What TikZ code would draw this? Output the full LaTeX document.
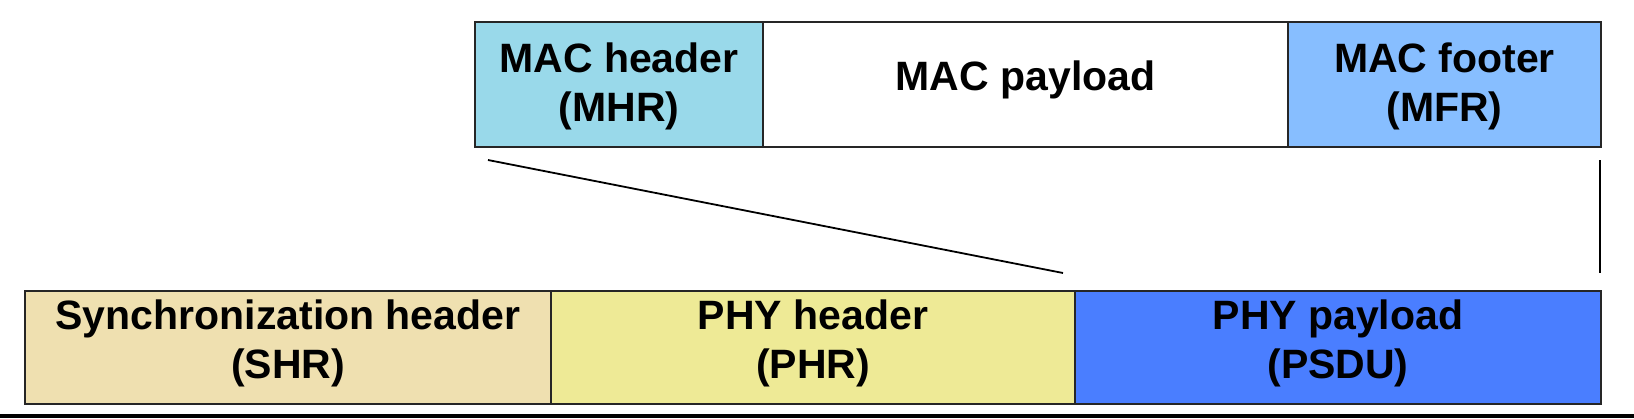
\documentclass[tikz,border=0pt]{standalone}
\usepackage{fontspec}
\setmainfont{Liberation Sans}
\usetikzlibrary{calc}
\definecolor{mhrcol}{RGB}{153,217,234}
\definecolor{mfrcol}{RGB}{135,190,255}
\definecolor{shrcol}{RGB}{239,224,176}
\definecolor{phrcol}{RGB}{238,234,150}
\definecolor{psducol}{RGB}{74,126,255}
\begin{document}
\begin{tikzpicture}[x=0.5pt,y=-0.5pt,
  field/.style={draw=black!85, line width=1pt, rectangle, inner sep=0pt, align=center,
    font=\fontsize{20.5}{24.5}\selectfont\bfseries},
  topfield/.style={field, minimum height=62.5pt},
  botfield/.style={field, minimum height=56.5pt},
  lbl/.style={font=\fontsize{20.5}{24.5}\selectfont\bfseries, align=center, inner sep=0pt},
  link/.style={draw=black, line width=0.9pt}]
\useasboundingbox (0,0) rectangle (1634,418);
\node[topfield, fill=mhrcol, minimum width=144pt] (mhr) at (619,84.5) {};
\node[topfield, fill=white, minimum width=262.5pt] (mpl) at (1025.5,84.5) {};
\node[topfield, fill=mfrcol, minimum width=156.5pt] (mfr) at (1444.5,84.5) {};
\node[botfield, fill=shrcol, minimum width=263pt] (shr) at (288,347.5) {};
\node[botfield, fill=phrcol, minimum width=262pt] (phr) at (813,347.5) {};
\node[botfield, fill=psducol, minimum width=263pt] (psdu) at (1338,347.5) {};
\node[lbl, yshift=-1pt] (tmhr) at (mhr.center) {MAC header\\(MHR)};
\node[lbl, yshift=2.5pt] (tmpl) at (mpl.center) {MAC payload};
\node[lbl, yshift=-1pt] (tmfr) at (mfr.center) {MAC footer\\(MFR)};
\node[lbl, yshift=2pt] (tshr) at (shr.center) {Synchronization header\\(SHR)};
\node[lbl, yshift=2pt] (tphr) at (phr.center) {PHY header\\(PHR)};
\node[lbl, yshift=2pt] (tpsdu) at (psdu.center) {PHY payload\\(PSDU)};
\coordinate (a1) at (488,160);
\coordinate (a2) at (1063,273);
\coordinate (b1) at (1600,160);
\coordinate (b2) at (1600,273);
\coordinate (c1) at (0,416);
\coordinate (c2) at (1634,416);
\draw[link] (a1) -- (a2);
\draw[link] (b1) -- (b2);
\draw[line width=2pt] (c1) -- (c2);
\end{tikzpicture}
\end{document}
